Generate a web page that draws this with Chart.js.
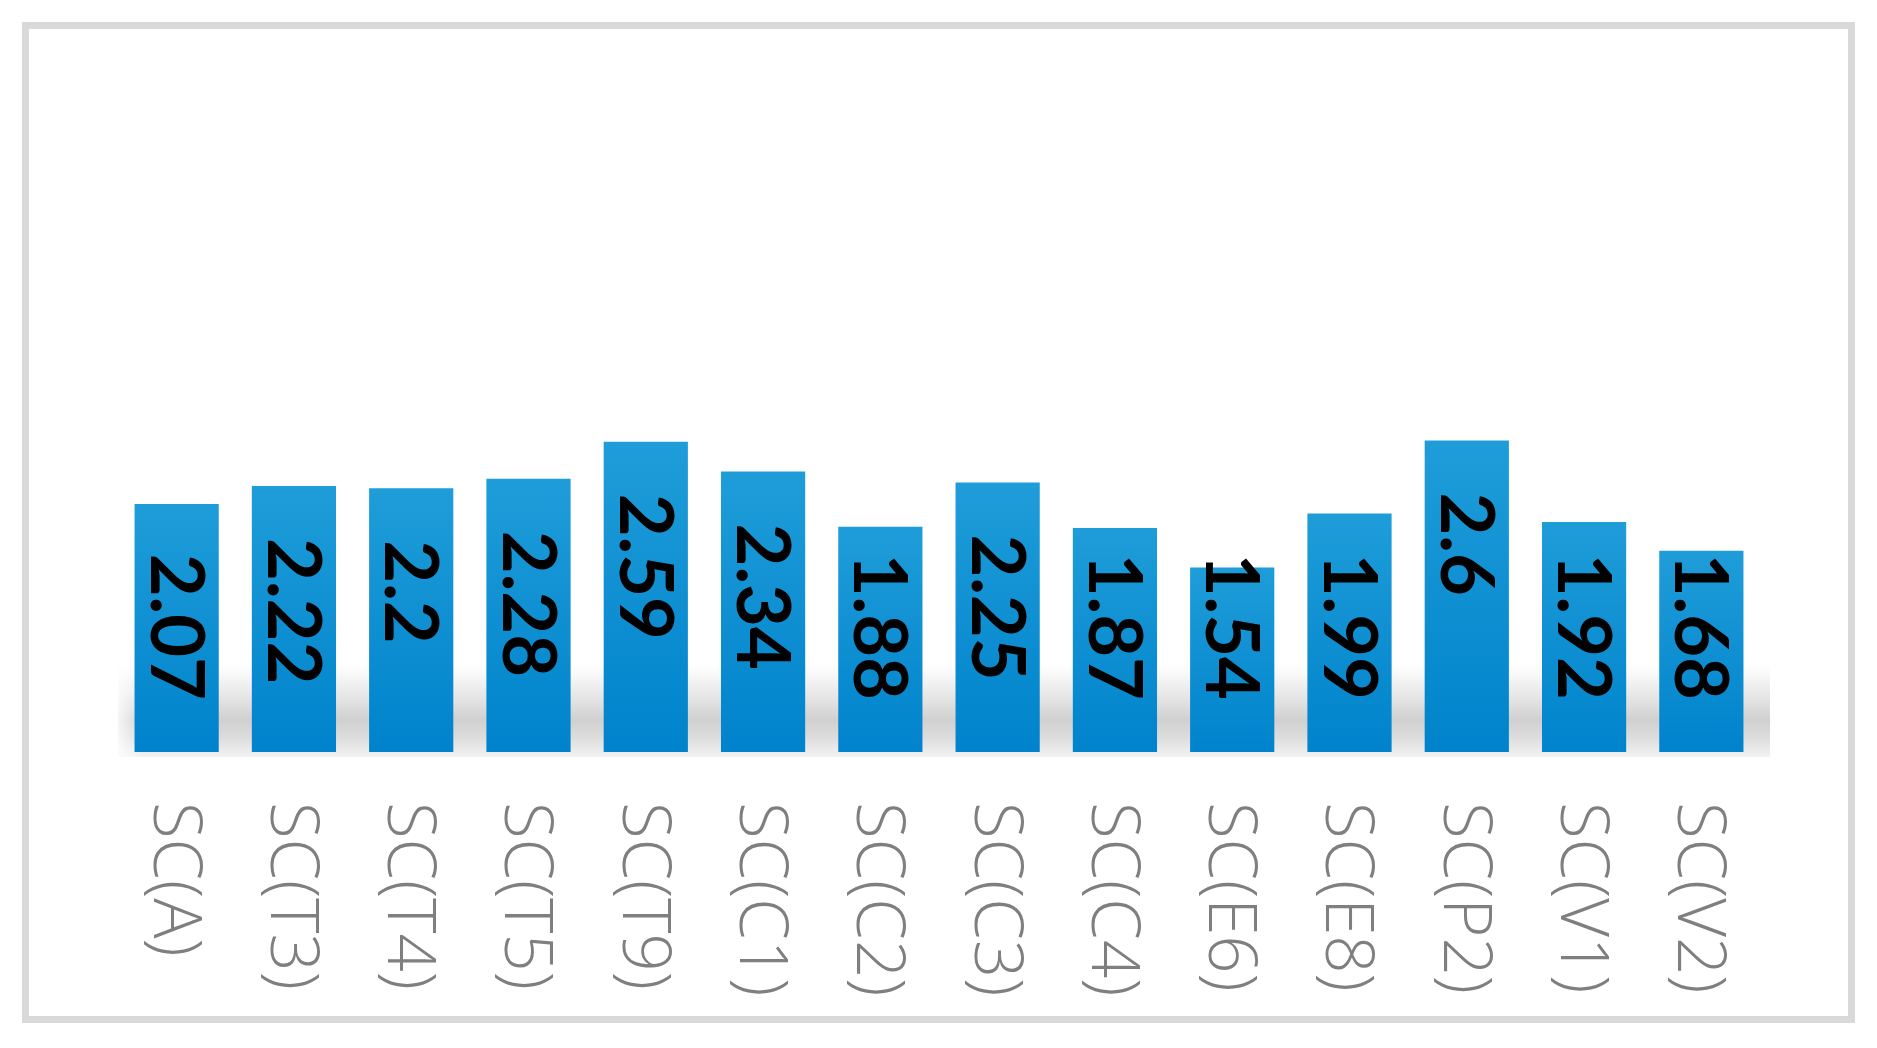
<!DOCTYPE html>
<html>
<head>
<meta charset="utf-8">
<script src="https://cdn.jsdelivr.net/npm/chart.js@4.4.0/dist/chart.umd.min.js"></script>
<style>
html, body { margin: 0; padding: 0; background: #fff; }
#wrap { position: relative; width: 1877px; height: 1048px; }
#frame { position: absolute; left: 22px; top: 22px; width: 1819px; height: 987px; border: 7px solid #d9d9d9; }
#chart { position: absolute; left: 0; top: 0; }
</style>
</head>
<body>
<div id="wrap">
  <div id="frame"></div>
  <canvas id="chart" width="1877" height="1048"></canvas>
</div>
<script>
// data
const categories = ['SC(A)', 'SC(T3)', 'SC(T4)', 'SC(T5)', 'SC(T9)', 'SC(C1)', 'SC(C2)',
                    'SC(C3)', 'SC(C4)', 'SC(E6)', 'SC(E8)', 'SC(P2)', 'SC(V1)', 'SC(V2)'];
const values = [2.07, 2.22, 2.2, 2.28, 2.59, 2.34, 1.88, 2.25, 1.87, 1.54, 1.99, 2.6, 1.92, 1.68];
const yMin = 0;
const yMax = 6;

// gradient per bar, lighter at the top of each bar
function barGradient(context){
	const chart = context.chart;
	const yScale = chart.scales.y;
	if(!yScale || context.raw === undefined) return '#0a8fd2';
	const top = yScale.getPixelForValue(context.raw);
	const bottom = yScale.getPixelForValue(0);
	if(!isFinite(top) || !isFinite(bottom)) return '#0a8fd2';
	const g = chart.ctx.createLinearGradient(0, top, 0, bottom);
	g.addColorStop(0, '#1f9dd9');
	g.addColorStop(1, '#0083cc');
	return g;
}

// soft grey shadow band behind the bottom of the bars
const shadowBand = {
	id: 'shadowBand',
	beforeDatasetsDraw(chart){
		const ctx = chart.ctx;
		const area = chart.chartArea;
		const base = chart.scales.y.getPixelForValue(0);
		const top = base - 95;
		const bottom = base + 5;
		const g = ctx.createLinearGradient(0, top, 0, bottom);
		g.addColorStop(0, 'rgba(255,255,255,0)');
		g.addColorStop(0.2, 'rgba(246,246,246,1)');
		g.addColorStop(0.42, 'rgba(228,228,228,1)');
		g.addColorStop(0.63, 'rgba(208,208,208,1)');
		g.addColorStop(0.8, 'rgba(220,220,220,1)');
		g.addColorStop(0.94, 'rgba(236,236,236,1)');
		g.addColorStop(1, 'rgba(243,243,243,1)');
		ctx.save();
		ctx.fillStyle = g;
		ctx.fillRect(area.left, top, area.right - area.left + 10, bottom - top);
		// fade the left end
		const h = ctx.createLinearGradient(area.left, 0, area.left + 25, 0);
		h.addColorStop(0, 'rgba(255,255,255,0.8)');
		h.addColorStop(1, 'rgba(255,255,255,0)');
		ctx.fillStyle = h;
		ctx.fillRect(area.left, top, 25, bottom - top);
		ctx.restore();
	}
};

// value labels, rotated to read top to bottom, inside the bars
const barLabels = {
	id: 'barLabels',
	afterDatasetsDraw(chart){
		const ctx = chart.ctx;
		const meta = chart.getDatasetMeta(0);
		const base = chart.scales.y.getPixelForValue(0);
		ctx.save();
		ctx.font = 'bold 74px Lato, "Liberation Sans", sans-serif';
		ctx.fillStyle = '#000';
		ctx.textAlign = 'left';
		ctx.textBaseline = 'middle';
		meta.data.forEach(function(bar, i){
			const text = String(values[i]);
			const w = ctx.measureText(text).width;
			let start = bar.y + 52;
			if(start + w > base - 52) start = base - 52 - w;
			ctx.save();
			ctx.translate(bar.x - 2, start);
			ctx.rotate(Math.PI / 2);
			ctx.fillText(text, 0, 0);
			ctx.restore();
		});
		ctx.restore();
	}
};

// category labels, also rotated clockwise (chart.js only rotates the other way)
const categoryLabels = {
	id: 'categoryLabels',
	afterDraw(chart){
		const ctx = chart.ctx;
		const xScale = chart.scales.x;
		const base = chart.scales.y.getPixelForValue(0);
		ctx.save();
		ctx.font = '300 67px "Open Sans", Lato, sans-serif';
		ctx.fillStyle = '#7f7f7f';
		ctx.textAlign = 'left';
		ctx.textBaseline = 'middle';
		for(let i=0; i<categories.length; i++){
			ctx.save();
			ctx.translate(xScale.getPixelForValue(i) - 4, base + 50);
			ctx.rotate(Math.PI / 2);
			ctx.fillText(categories[i], 0, 0);
			ctx.restore();
		}
		ctx.restore();
	}
};

const ctx = document.querySelector('#chart');
const chart = new Chart(ctx, {
	type: 'bar',
	data: {
		labels: categories,
		datasets: [{
			data: values,
			backgroundColor: barGradient,
			borderWidth: 0,
			categoryPercentage: 1,
			barPercentage: 0.718
		}]
	},
	options: {
		responsive: false,
		animation: false,
		layout: { padding: { left: 118, right: 117, top: 33, bottom: 296 } },
		plugins: { legend: { display: false }, tooltip: { enabled: false } },
		scales: {
			x: { display: false },
			y: { display: false, min: yMin, max: yMax }
		}
	},
	plugins: [shadowBand, barLabels, categoryLabels]
});
</script>
</body>
</html>
